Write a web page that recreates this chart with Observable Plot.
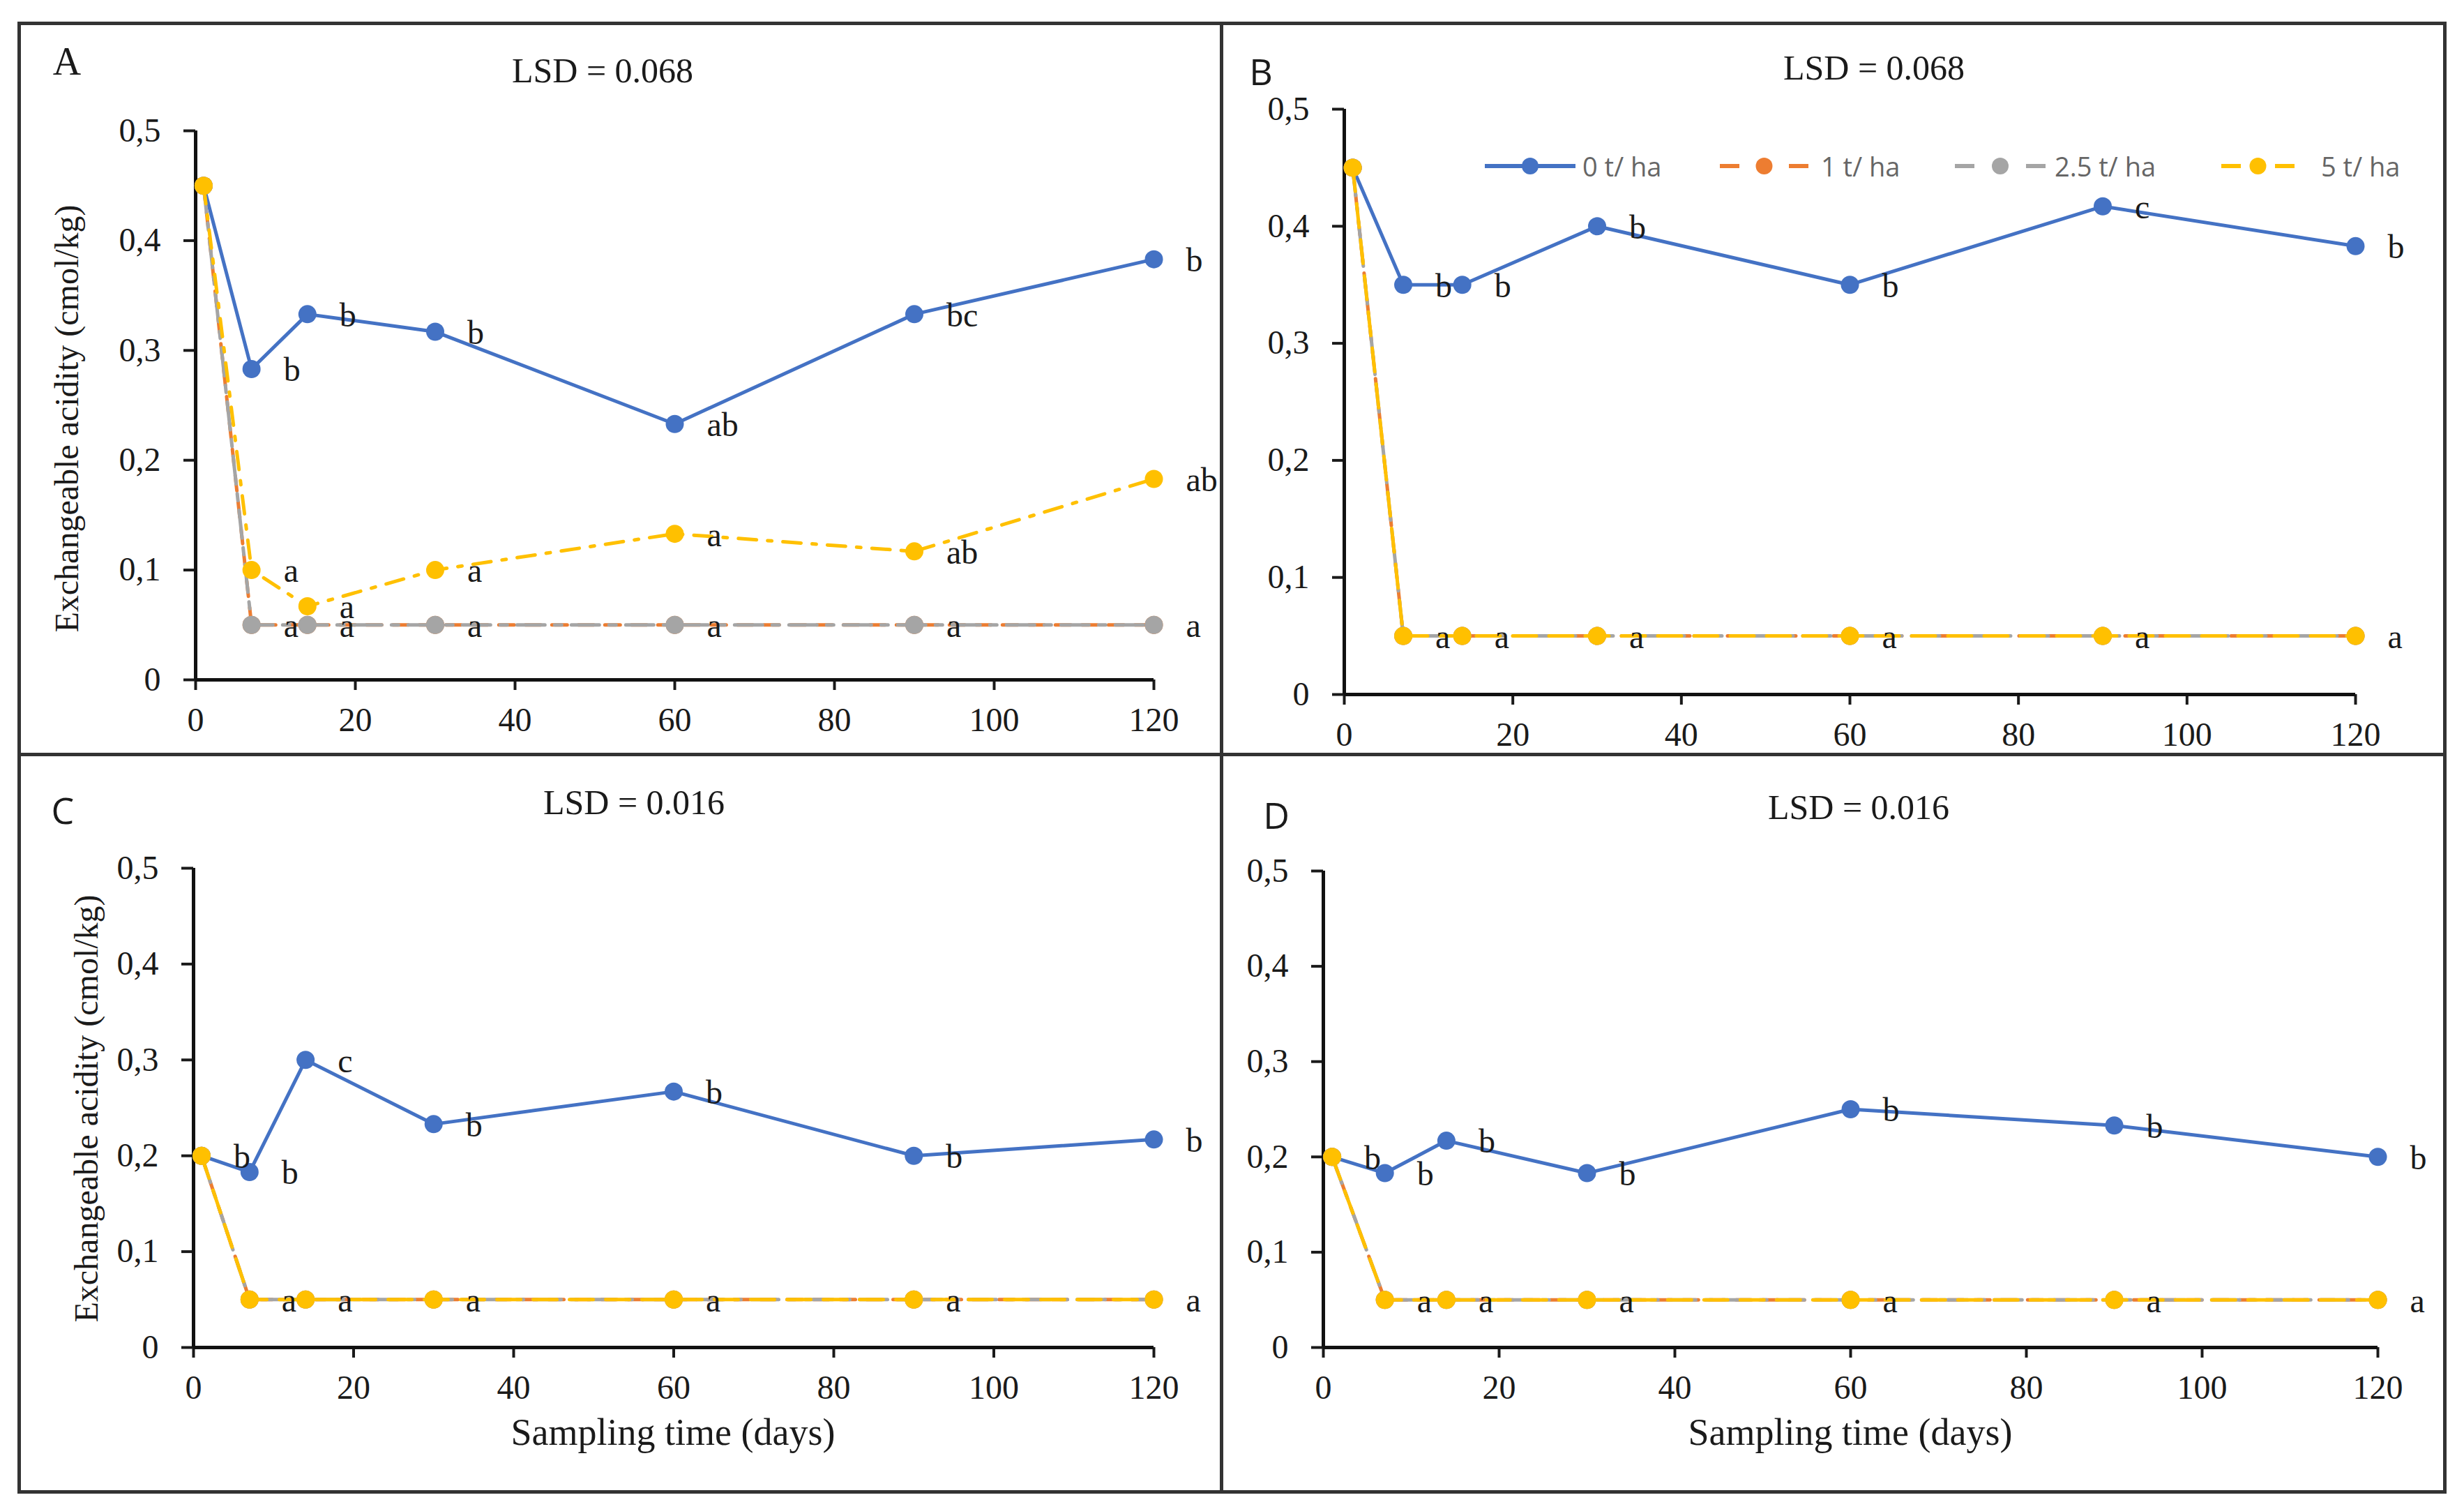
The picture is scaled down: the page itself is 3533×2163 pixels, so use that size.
<!DOCTYPE html>
<html><head><meta charset="utf-8">
<script src="https://cdn.jsdelivr.net/npm/d3@7"></script>
<script src="https://cdn.jsdelivr.net/npm/@observablehq/plot@0.6"></script>
<style>
html,body{margin:0;padding:0;background:#fff;}
#page{position:relative;width:3533px;height:2163px;background:#fff;overflow:hidden;}
.t{position:absolute;white-space:nowrap;transform:translate(-50%,-50%);line-height:1;}
.serif{font-family:"Liberation Serif","Times New Roman",serif;color:#1a1a1a;}
.sans{font-family:"Open Sans","Liberation Sans",sans-serif;color:#1a1a1a;}
.rule{position:absolute;background:#333;}
</style></head><body><div id="page"></div>
<script>
// ---------- data ----------
const days = [1, 7, 14, 30, 60, 90, 120];
const seriesNames = ["0 t/ ha", "1 t/ ha", "2.5 t/ ha", "5 t/ ha"];
const xTicks = [0, 20, 40, 60, 80, 100, 120];
const yTicks = [0, 0.1, 0.2, 0.3, 0.4, 0.5];
const yTickLabels = ["0", "0,1", "0,2", "0,3", "0,4", "0,5"];
const panelLetters = ["A", "B", "C", "D"];
const lsdLabels = ["LSD = 0.068", "LSD = 0.068", "LSD = 0.016", "LSD = 0.016"];
const yTitle = "Exchangeable acidity (cmol/kg)";
const xTitle = "Sampling time (days)";

// Panel A
const A_0 = [0.45, 0.283, 0.333, 0.317, 0.233, 0.333, 0.383];
const A_1 = [0.45, 0.05, 0.05, 0.05, 0.05, 0.05, 0.05];
const A_25 = [0.45, 0.05, 0.05, 0.05, 0.05, 0.05, 0.05];
const A_5 = [0.45, 0.10, 0.067, 0.10, 0.133, 0.117, 0.183];
const A_0_letters = ["", "b", "b", "b", "ab", "bc", "b"];
const A_1_letters = ["", "a", "a", "a", "a", "a", "a"];
const A_5_letters = ["", "a", "a", "a", "a", "ab", "ab"];
// Panel B
const B_0 = [0.45, 0.35, 0.35, 0.40, 0.35, 0.417, 0.383];
const B_1 = [0.45, 0.05, 0.05, 0.05, 0.05, 0.05, 0.05];
const B_25 = [0.45, 0.05, 0.05, 0.05, 0.05, 0.05, 0.05];
const B_5 = [0.45, 0.05, 0.05, 0.05, 0.05, 0.05, 0.05];
const B_0_letters = ["", "b", "b", "b", "b", "c", "b"];
const B_1_letters = ["", "a", "a", "a", "a", "a", "a"];
const B_5_letters = ["", "", "", "", "", "", ""];
// Panel C
const C_0 = [0.20, 0.183, 0.30, 0.233, 0.267, 0.20, 0.217];
const C_1 = [0.20, 0.05, 0.05, 0.05, 0.05, 0.05, 0.05];
const C_25 = [0.20, 0.05, 0.05, 0.05, 0.05, 0.05, 0.05];
const C_5 = [0.20, 0.05, 0.05, 0.05, 0.05, 0.05, 0.05];
const C_0_letters = ["b", "b", "c", "b", "b", "b", "b"];
const C_1_letters = ["", "a", "a", "a", "a", "a", "a"];
const C_5_letters = ["", "", "", "", "", "", ""];
// Panel D
const D_0 = [0.20, 0.183, 0.217, 0.183, 0.25, 0.233, 0.20];
const D_1 = [0.20, 0.05, 0.05, 0.05, 0.05, 0.05, 0.05];
const D_25 = [0.20, 0.05, 0.05, 0.05, 0.05, 0.05, 0.05];
const D_5 = [0.20, 0.05, 0.05, 0.05, 0.05, 0.05, 0.05];
const D_0_letters = ["b", "b", "b", "b", "b", "b", "b"];
const D_1_letters = ["", "a", "a", "a", "a", "a", "a"];
const D_5_letters = ["", "", "", "", "", "", ""];

// ---------- styles / layout ----------
const seriesColors = ["#4472C4", "#ED7D31", "#A5A5A5", "#FFC000"];
const seriesDash = [null, "22 16", "40 14 10 14", "34 18"];
const yellowDashA = "26 16 6 16";

const layout = [
  {xL: 280, xR: 1654, yT: 187, yB: 974, letter: [96, 88], letterFont: "serif", lsd: [864, 101], yt: [96, 600], xt: null},
  {xL: 1927, xR: 3377, yT: 156, yB: 995, letter: [1808, 102], letterFont: "sans", lsd: [2687, 97], yt: null, xt: null},
  {xL: 277, xR: 1654, yT: 1244, yB: 1931, letter: [90, 1161], letterFont: "sans", lsd: [909, 1150], yt: [124, 1589], xt: [965, 2053]},
  {xL: 1897, xR: 3409, yT: 1248, yB: 1931, letter: [1830, 1168], letterFont: "sans", lsd: [2665, 1157], yt: null, xt: [2653, 2053]}
];

const panelData = [
  {series: [A_0, A_1, A_25, A_5], letters: [A_0_letters, A_1_letters, null, A_5_letters]},
  {series: [B_0, B_1, B_25, B_5], letters: [B_0_letters, B_1_letters, null, B_5_letters]},
  {series: [C_0, C_1, C_25, C_5], letters: [C_0_letters, C_1_letters, null, C_5_letters]},
  {series: [D_0, D_1, D_25, D_5], letters: [D_0_letters, D_1_letters, null, D_5_letters]}
];

const page = document.getElementById("page");

function addText(txt, cls, x, y, size, rotate) {
  const d = document.createElement("div");
  d.className = "t " + cls;
  d.textContent = txt;
  d.style.left = x + "px";
  d.style.top = y + "px";
  d.style.fontSize = size + "px";
  if (rotate) d.style.transform = "translate(-50%,-50%) rotate(-90deg)";
  page.appendChild(d);
}
function addRule(x, y, w, h) {
  const d = document.createElement("div");
  d.className = "rule";
  Object.assign(d.style, {left: x + "px", top: y + "px", width: w + "px", height: h + "px"});
  page.appendChild(d);
}

// frame
const fx0 = 25, fx1 = 3503, fy0 = 31, fy1 = 2136, lw = 5;
addRule(fx0, fy0, fx1 - fx0, lw);
addRule(fx0, fy1, fx1 - fx0 + lw, lw);
addRule(fx0, fy0, lw, fy1 - fy0);
addRule(fx1, fy0, lw, fy1 - fy0);
addRule(1749, fy0, lw, fy1 - fy0);
addRule(fx0, 1079, fx1 - fx0, lw);

const ml = 160, mr = 160, mt = 30, mb = 120;

panelData.forEach((pd, pi) => {
  const L = layout[pi];
  const marks = [
    Plot.axisX({ticks: xTicks, tickSize: 15, tickPadding: 24, strokeWidth: 4, label: null, fontSize: 48, color: "#1a1a1a"}),
    Plot.axisY({ticks: yTicks, tickSize: 17, tickPadding: 33, strokeWidth: 4, label: null, fontSize: 48, color: "#1a1a1a",
      tickFormat: d => yTickLabels[yTicks.indexOf(d)] ?? ""}),
    Plot.ruleY([0], {x1: 0, x2: 120, stroke: "#111", strokeWidth: 5}),
    Plot.ruleX([0], {y1: 0, y2: 0.5, stroke: "#111", strokeWidth: 5})
  ];
  pd.series.forEach((vals, si) => {
    const rows = days.map((d, i) => ({day: d, value: vals[i]}));
    let dash = seriesDash[si];
    if (pi === 0 && si === 3) dash = yellowDashA;
    marks.push(Plot.line(rows, {x: "day", y: "value", stroke: seriesColors[si], strokeWidth: 5,
      strokeDasharray: dash, strokeLinejoin: "round"}));
    marks.push(Plot.dot(rows, {x: "day", y: "value", r: 13, fill: seriesColors[si], stroke: "none"}));
  });
  const labelRows = [];
  pd.letters.forEach((lets, si) => {
    if (!lets) return;
    lets.forEach((t, i) => { if (t) labelRows.push({day: days[i], value: pd.series[si][i], text: t}); });
  });
  marks.push(Plot.text(labelRows, {x: "day", y: "value", text: "text", dx: 46, dy: 2, textAnchor: "start",
    lineAnchor: "middle", fontSize: 48, fill: "#1a1a1a"}));

  const W = L.xR - L.xL + ml + mr, H = L.yB - L.yT + mt + mb;
  const svg = Plot.plot({
    width: W, height: H,
    marginLeft: ml, marginRight: mr, marginTop: mt, marginBottom: mb,
    x: {domain: [0, 120]},
    y: {domain: [0, 0.5]},
    style: {fontFamily: "'Liberation Serif','Times New Roman',serif", background: "none", overflow: "visible"},
    marks
  });
  svg.style.position = "absolute";
  svg.style.left = (L.xL - ml) + "px";
  svg.style.top = (L.yT - mt) + "px";
  svg.style.maxWidth = "none";
  page.appendChild(svg);

  addText(panelLetters[pi], L.letterFont, L.letter[0], L.letter[1], L.letterFont === "serif" ? 56 : 52);
  addText(lsdLabels[pi], "serif", L.lsd[0], L.lsd[1], 50);
  if (L.yt) addText(yTitle, "serif", L.yt[0], L.yt[1], 48, true);
  if (L.xt) addText(xTitle, "serif", L.xt[0], L.xt[1], 54);
});

// legend (panel B)
const legendItems = [
  {x0: 2129, x1: 2259, tx: 2269},
  {x0: 2466, x1: 2593, tx: 2611},
  {x0: 2803, x1: 2933, tx: 2946},
  {x0: 3185, x1: 3290, tx: 3328}
];
const legY = 238;
const NS = "http://www.w3.org/2000/svg";
const lg = document.createElementNS(NS, "svg");
lg.setAttribute("width", 3533); lg.setAttribute("height", 2163);
lg.style.position = "absolute"; lg.style.left = "0px"; lg.style.top = "0px"; lg.style.pointerEvents = "none";
function el(tag, attrs) { const e = document.createElementNS(NS, tag); for (const k in attrs) e.setAttribute(k, attrs[k]); lg.appendChild(e); return e; }
legendItems.forEach((it, si) => {
  const c = seriesColors[si];
  if (si === 0) {
    el("line", {x1: it.x0, x2: it.x1, y1: legY, y2: legY, stroke: c, "stroke-width": 6});
  } else {
    el("line", {x1: it.x0, x2: it.x0 + 28, y1: legY, y2: legY, stroke: c, "stroke-width": 6});
    el("line", {x1: it.x1 - 28, x2: it.x1, y1: legY, y2: legY, stroke: c, "stroke-width": 6});
  }
  el("circle", {cx: (it.x0 + it.x1) / 2, cy: legY, r: 12, fill: c});
  const t = el("text", {x: it.tx, y: legY, "dominant-baseline": "central", fill: "#666",
    "font-family": "'Liberation Sans Narrow','Open Sans',sans-serif", "font-size": 38});
  t.textContent = seriesNames[si];
});
page.appendChild(lg);
</script></body></html>
